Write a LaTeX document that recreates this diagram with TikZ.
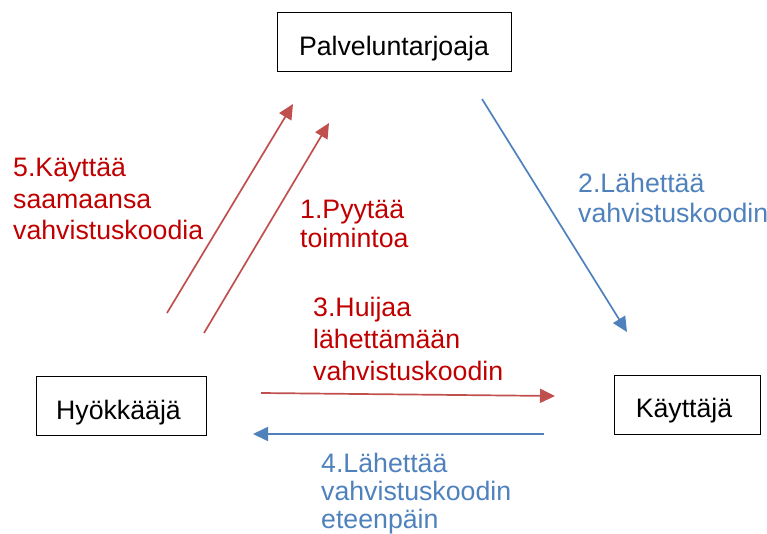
\documentclass[tikz,border=0pt]{standalone}
\usepackage{fontspec}
\setmainfont{Liberation Sans}
\usetikzlibrary{arrows.meta}
\definecolor{redtxt}{HTML}{C00000}
\definecolor{redarr}{HTML}{C0504D}
\definecolor{bluearr}{HTML}{4F81BD}
\begin{document}
\begin{tikzpicture}[x=1pt,y=-1pt,
  box/.style={draw=black,line width=1pt,minimum width=#1,minimum height=59pt,inner sep=0pt,text height=37pt,text depth=10pt,font=\fontsize{26.7}{31}\selectfont},
  lbl/.style={anchor=base west,align=left,inner sep=0pt,text width=220pt},
  rarr/.style={draw=redarr,line width=1.7pt,-{Triangle[length=15pt,width=14pt]}},
  barr/.style={draw=bluearr,line width=1.7pt,-{Triangle[length=15pt,width=14pt]}}]
\useasboundingbox (0,0) rectangle (767,534);
\node[box=234pt] (pt) at (394,42.5) {Palveluntarjoaja};
\node[box=170pt] (h) at (121,405.5) {Hyökkääjä\hspace*{5pt}};
\node[box=146pt,text height=34pt] (k) at (687,405) {Käyttäjä\hspace*{6pt}};
\coordinate (a5s) at (167,313); \coordinate (a5e) at (293,104);
\coordinate (a1s) at (204,333); \coordinate (a1e) at (329,123);
\coordinate (a2s) at (482,99); \coordinate (a2e) at (627,332);
\coordinate (a3s) at (261,393); \coordinate (a3e) at (555,396);
\coordinate (a4s) at (544,434); \coordinate (a4e) at (253,434);
\draw[rarr] (a5s) -- (a5e);
\draw[rarr] (a1s) -- (a1e);
\draw[barr] (a2s) -- (a2e);
\draw[rarr] (a3s) -- (a3e);
\draw[barr] (a4s) -- (a4e);
\node[lbl,text=redtxt,font=\fontsize{26.7}{31.5}\selectfont] (t5) at (13,177) {5.Käyttää\\saamaansa\\vahvistuskoodia};
\node[lbl,text=redtxt,font=\fontsize{26.7}{29}\selectfont] (t1) at (300,219) {1.Pyytää\\toimintoa};
\node[lbl,text=bluearr,font=\fontsize{26.7}{30}\selectfont] (t2) at (578,193) {2.Lähettää\\vahvistuskoodin};
\node[lbl,text=redtxt,font=\fontsize{26.7}{32}\selectfont] (t3) at (313,316) {3.Huijaa\\lähettämään\\vahvistuskoodin};
\node[lbl,text=bluearr,font=\fontsize{26.7}{28}\selectfont] (t4) at (321,472) {4.Lähettää\\vahvistuskoodin\\eteenpäin};
\end{tikzpicture}
\end{document}
